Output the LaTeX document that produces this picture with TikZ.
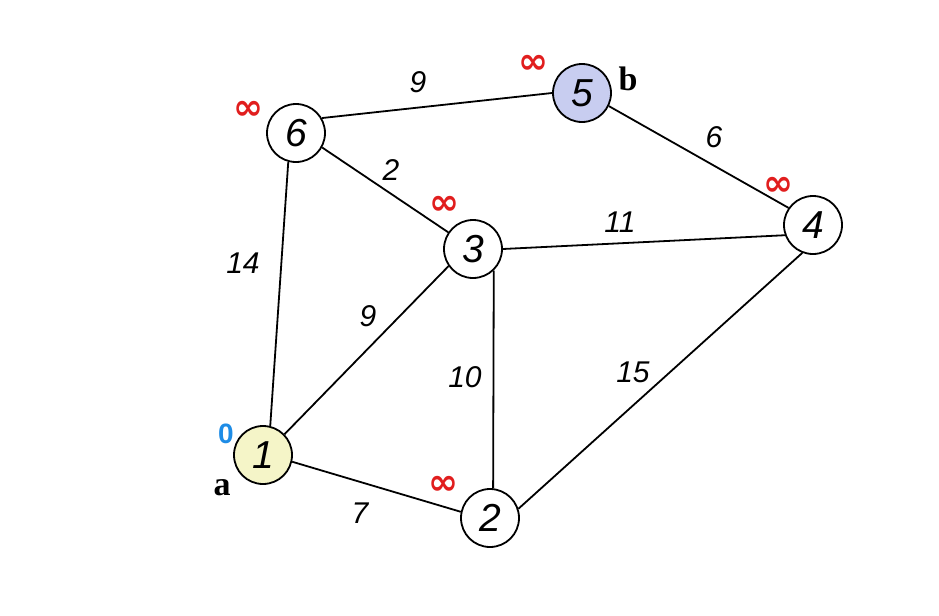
\documentclass[tikz,border=0pt]{standalone}
\usepackage{fontspec}
\setmainfont{Liberation Serif}
\setsansfont{Liberation Sans}
\newfontfamily\symfont{DejaVu Sans}
\definecolor{nodeyellow}{RGB}{245,245,200}
\definecolor{nodeblue}{RGB}{200,205,240}
\definecolor{infred}{RGB}{225,30,30}
\definecolor{zeroblue}{RGB}{30,140,230}
\tikzset{
  vertex/.style={circle,draw=black,line width=0.9pt,minimum size=29pt,inner sep=0pt,fill=white,font=\sffamily\itshape\fontsize{19.5}{19.5}\selectfont},
  edge/.style={line width=0.9pt,black},
  wlabel/.style={font=\sffamily\itshape\fontsize{15}{15}\selectfont,inner sep=0pt},
  inflabel/.style={font=\symfont\bfseries\fontsize{18}{18}\selectfont,text=infred,inner sep=0pt},
  letterlabel/.style={font=\rmfamily\bfseries\fontsize{17}{17}\selectfont,inner sep=0pt}
}
\begin{document}
\begin{tikzpicture}[x=0.5pt,y=0.5pt]
\useasboundingbox (0,0) rectangle (939,-616);
\node[vertex,fill=nodeyellow] (n1) at (263,-455) {1};
\node[vertex] (n2) at (490,-518) {2};
\node[vertex] (n3) at (473,-249) {3};
\node[vertex] (n4) at (813,-225) {4};
\node[vertex,fill=nodeblue] (n5) at (582,-93) {5};
\node[vertex] (n6) at (296,-133) {6};
\draw[edge] (n1.76) -- (n6.-105);
\draw[edge] (n1.44) -- (n3.215);
\draw[edge] (n1.-13) -- (n2.168);
\draw[edge] (n6.30) -- (n5.180);
\draw[edge] (n6.-29) -- (n3.146);
\draw[edge] (n3.0) -- (n4.200);
\draw[edge] (n3.-46) -- (n2.84);
\draw[edge] (n5.-26) -- (n4.145);
\draw[edge] (n2.18) -- (n4.-111);
\node[wlabel] (w16) at (243,-263) {14};
\node[wlabel] (w13) at (368,-316) {9};
\node[wlabel] (w12) at (360,-513) {7};
\node[wlabel] (w65) at (418,-82) {9};
\node[wlabel] (w63) at (391,-170) {2};
\node[wlabel] (w34) at (620,-222) {11};
\node[wlabel] (w32) at (465,-377) {10};
\node[wlabel] (w54) at (714,-137) {6};
\node[wlabel] (w24) at (633,-372) {15};
\node[inflabel] (i2) at (443,-485) {∞};
\node[inflabel] (i6) at (248,-110) {∞};
\node[inflabel] (i5) at (533,-64) {∞};
\node[inflabel] (i3) at (444,-205) {∞};
\node[inflabel] (i4) at (778,-186) {∞};
\node[font=\sffamily\bfseries\fontsize{14}{14}\selectfont,text=zeroblue,inner sep=0pt] (z1) at (226,-434) {0};
\node[letterlabel] (la) at (222,-488) {a};
\node[letterlabel] (lb) at (628,-79) {b};
\end{tikzpicture}
\end{document}
